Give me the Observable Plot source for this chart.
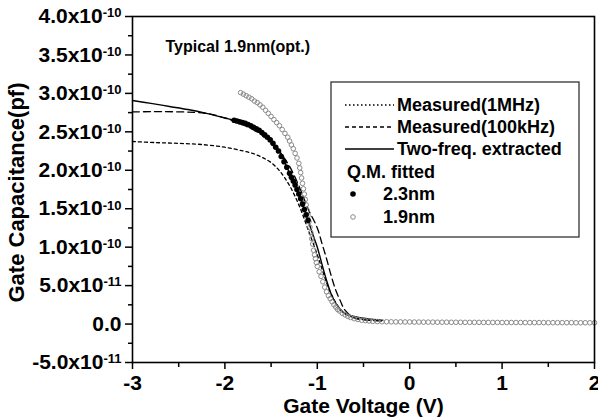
<!DOCTYPE html>
<html><head><meta charset="utf-8">
<script src="https://cdn.jsdelivr.net/npm/d3@7"></script>
<script src="https://cdn.jsdelivr.net/npm/@observablehq/plot@0.6"></script>
<style>
body{margin:0;background:#fff}
svg{font-family:"Liberation Sans",Arial,sans-serif;font-weight:bold}
</style>
</head><body><div id="chart"></div>
<script>
// values in units of 1e-10 pF
const SCALE = 1e-10;
const titleText = "Typical 1.9nm(opt.)";
const xLabel = "Gate Voltage (V)";
const yLabel = "Gate Capacitance(pf)";
const legendLabels = ["Measured(1MHz)", "Measured(100kHz)", "Two-freq. extracted", "Q.M. fitted", "2.3nm", "1.9nm"];

const xTicks = [-3, -2, -1, 0, 1, 2];
const xTickLabels = ["-3", "-2", "-1", "0", "1", "2"];
const xMinorTicks = [-2.5, -1.5, -0.5, 0.5, 1.5];
const yTicks = [-5e-11, 0, 5e-11, 1e-10, 1.5e-10, 2e-10, 2.5e-10, 3e-10, 3.5e-10, 4e-10];
const yTickMantissa = ["-5.0x10", "0.0", "5.0x10", "1.0x10", "1.5x10", "2.0x10", "2.5x10", "3.0x10", "3.5x10", "4.0x10"];
const yTickExponent = ["-11", "", "-11", "-10", "-10", "-10", "-10", "-10", "-10", "-10"];
const yMinorTicks = [-2.5e-11, 2.5e-11, 7.5e-11, 1.25e-10, 1.75e-10, 2.25e-10, 2.75e-10, 3.25e-10, 3.75e-10];

// Measured (1MHz)
const v1MHz = [-3, -2.75, -2.5, -2.25, -2.0, -1.8, -1.7, -1.6, -1.5, -1.4, -1.3, -1.2, -1.1, -1.0, -0.95, -0.9, -0.85, -0.8, -0.75, -0.7, -0.6, -0.5, -0.4, -0.3];
const c1MHz = [2.374, 2.36, 2.35, 2.335, 2.30, 2.25, 2.22, 2.17, 2.10, 1.98, 1.80, 1.55, 1.23, 0.90, 0.72, 0.54, 0.39, 0.28, 0.19, 0.135, 0.08, 0.06, 0.05, 0.045];

// Measured (100kHz)
const v100k = [-3, -2.5, -2.2, -2.0, -1.8, -1.6, -1.5, -1.4, -1.3, -1.2, -1.1, -1.0, -0.95, -0.9, -0.85, -0.8, -0.75, -0.7, -0.6, -0.5, -0.4, -0.3];
const c100k = [2.76, 2.76, 2.74, 2.68, 2.59, 2.46, 2.37, 2.23, 2.05, 1.80, 1.50, 1.25, 1.05, 0.85, 0.63, 0.44, 0.30, 0.18, 0.08, 0.055, 0.045, 0.04];

// Two-freq. extracted
const vTwo = [-3, -2.8, -2.6, -2.4, -2.2, -2.0, -1.9, -1.8, -1.7, -1.6, -1.5, -1.4, -1.3, -1.2, -1.1, -1.05, -1.0, -0.95, -0.9, -0.85, -0.8, -0.75, -0.7, -0.6, -0.5, -0.4, -0.3];
const cTwo = [2.907, 2.87, 2.83, 2.79, 2.74, 2.68, 2.65, 2.615, 2.57, 2.49, 2.38, 2.23, 1.96, 1.69, 1.35, 1.17, 1.00, 0.78, 0.57, 0.39, 0.27, 0.19, 0.14, 0.10, 0.075, 0.06, 0.05];

// Q.M. fitted 2.3nm (filled dots)
const v23 = [-1.90, -1.87, -1.84, -1.81, -1.78, -1.75, -1.72, -1.69, -1.66, -1.63, -1.60, -1.57, -1.54, -1.51, -1.48, -1.45, -1.42, -1.39, -1.36, -1.33, -1.30, -1.28, -1.26, -1.24, -1.22, -1.20, -1.18, -1.16, -1.14, -1.12, -1.10];
const c23 = [2.65, 2.64, 2.63, 2.62, 2.61, 2.595, 2.58, 2.56, 2.54, 2.52, 2.49, 2.46, 2.43, 2.395, 2.35, 2.30, 2.25, 2.18, 2.11, 2.04, 1.96, 1.91, 1.86, 1.81, 1.75, 1.69, 1.63, 1.56, 1.49, 1.42, 1.35];

// Q.M. fitted 1.9nm (open circles)
const v19 = [-1.83, -1.80, -1.77, -1.74, -1.71, -1.68, -1.65, -1.62, -1.59, -1.56, -1.53, -1.50, -1.47, -1.44, -1.41, -1.38, -1.35, -1.32, -1.30, -1.28, -1.26, -1.24, -1.22, -1.20, -1.19, -1.18, -1.17, -1.16, -1.15, -1.14, -1.13, -1.12, -1.11, -1.10, -1.09, -1.08, -1.07, -1.06, -1.05, -1.04, -1.03, -1.02, -1.01, -1.00, -0.98, -0.96, -0.94, -0.92, -0.90, -0.88, -0.86, -0.84, -0.82, -0.80, -0.78, -0.76, -0.73, -0.70, -0.67, -0.64, -0.60, -0.56, -0.52, -0.48, -0.44, -0.40,
  -0.35, -0.30, -0.25, -0.20, -0.15, -0.10, -0.05, 0.00, 0.05, 0.10, 0.15, 0.20, 0.25, 0.30, 0.35, 0.40, 0.45, 0.50, 0.55, 0.60, 0.65, 0.70, 0.75, 0.80, 0.85, 0.90, 0.95, 1.00, 1.05, 1.10, 1.15, 1.20, 1.25, 1.30, 1.35, 1.40, 1.45, 1.50, 1.55, 1.60, 1.65, 1.70, 1.75, 1.80, 1.85, 1.90, 1.95, 2.00];
const c19 = [3.01, 2.99, 2.97, 2.95, 2.93, 2.90, 2.88, 2.85, 2.82, 2.78, 2.74, 2.70, 2.66, 2.62, 2.58, 2.53, 2.48, 2.43, 2.38, 2.33, 2.28, 2.22, 2.16, 2.09, 2.03, 1.97, 1.90, 1.83, 1.76, 1.69, 1.62, 1.55, 1.48, 1.41, 1.33, 1.26, 1.19, 1.11, 1.04, 0.96, 0.90, 0.85, 0.80, 0.75, 0.68, 0.62, 0.55, 0.48, 0.42, 0.37, 0.33, 0.29, 0.25, 0.22, 0.19, 0.17, 0.14, 0.12, 0.10, 0.085, 0.07, 0.06, 0.05, 0.045, 0.04, 0.035,
  0.032, 0.030, 0.030, 0.029, 0.028, 0.028, 0.027, 0.027, 0.026, 0.026, 0.025, 0.025, 0.025, 0.024, 0.024, 0.024, 0.023, 0.023, 0.023, 0.022, 0.022, 0.022, 0.022, 0.021, 0.021, 0.021, 0.021, 0.020, 0.020, 0.020, 0.020, 0.020, 0.019, 0.019, 0.019, 0.019, 0.019, 0.018, 0.018, 0.018, 0.018, 0.018, 0.018, 0.017, 0.017, 0.017, 0.017, 0.017];

const rows = (vs, cs) => vs.map((v, i) => ({v, c: cs[i] * SCALE}));
const d1MHz = rows(v1MHz, c1MHz);
const d100k = rows(v100k, c100k);
const dTwo = rows(vTwo, cTwo);
const d23 = rows(v23, c23);
const d19 = rows(v19, c19);

const W = 598, H = 418, ML = 132, MR = 4, MT = 16, MB = 56;
const FW = W - ML - MR, FH = H - MT - MB;

const plot = Plot.plot({
  width: W,
  height: H,
  marginLeft: ML,
  marginRight: MR,
  marginTop: MT,
  marginBottom: MB,
  style: {fontFamily: '"Liberation Sans", Arial, sans-serif', fontWeight: "bold", fontSize: "18px", color: "#000", background: "#fff", overflow: "visible"},
  x: {domain: [-3, 2], axis: null},
  y: {domain: [-5e-11, 4e-10], axis: null},
  marks: [
    // ticks (outward)
    Plot.tickX(xMinorTicks, {x: d => d, insetTop: FH, insetBottom: -5, stroke: "#000", strokeWidth: 1.5}),
    Plot.tickX(xTicks, {x: d => d, insetTop: FH, insetBottom: -7, stroke: "#000", strokeWidth: 1.5}),
    Plot.tickY(yMinorTicks, {y: d => d, insetLeft: -4, insetRight: FW, stroke: "#000", strokeWidth: 1.5}),
    Plot.tickY(yTicks, {y: d => d, insetLeft: -7, insetRight: FW, stroke: "#000", strokeWidth: 1.5}),
    // tick labels
    Plot.text(xTicks, {x: d => d, frameAnchor: "bottom", dy: 21, text: (d, i) => xTickLabels[i], textAnchor: "middle", lineAnchor: "middle", fontSize: 21, fontWeight: "bold"}),
    Plot.text(yTicks, {y: d => d, frameAnchor: "left", dx: -11, text: (d, i) => yTickMantissa[i] + "|" + yTickExponent[i], textAnchor: "end", lineAnchor: "middle", fontSize: 21, fontWeight: "bold"}),
    // data
    Plot.line(d1MHz, {x: "v", y: "c", curve: "catmull-rom", stroke: "#000", strokeWidth: 1.3, strokeDasharray: "3,3"}),
    Plot.line(d100k, {x: "v", y: "c", curve: "catmull-rom", stroke: "#000", strokeWidth: 1.3, strokeDasharray: "7,4"}),
    Plot.line(dTwo, {x: "v", y: "c", curve: "catmull-rom", stroke: "#000", strokeWidth: 1.4}),
    Plot.dot(d19, {x: "v", y: "c", r: 2.3, stroke: "#8a8a8a", strokeWidth: 1, fill: "none"}),
    Plot.dot(d23, {x: "v", y: "c", r: 2.8, fill: "#000", stroke: "none"}),
    Plot.frame({stroke: "#000", strokeWidth: 1.6}),
    Plot.text([titleText], {frameAnchor: "top-left", dx: 33, dy: 30, textAnchor: "start", lineAnchor: "middle", fontSize: 16, fontWeight: "bold"}),
    Plot.text([xLabel], {frameAnchor: "bottom", dy: 44, textAnchor: "middle", lineAnchor: "middle", fontSize: 21, fontWeight: "bold"}),
    Plot.text([yLabel], {frameAnchor: "left", dx: -116, dy: 3, rotate: -90, textAnchor: "middle", lineAnchor: "middle", fontSize: 22, fontWeight: "bold"})
  ]
});
document.getElementById("chart").appendChild(plot);

const svg = d3.select(plot);
// superscript tick labels
svg.selectAll("text").each(function () {
  const t = d3.select(this);
  const s = t.text();
  if (s.indexOf("|") < 0) return;
  const parts = s.split("|");
  t.selectAll("*").remove();
  t.text(null);
  t.append("tspan").text(parts[0]);
  if (parts[1]) t.append("tspan").attr("dy", "-0.45em").attr("font-size", 13).text(parts[1]);
});

// legend (inside the plot frame)
const lg = svg.append("g").attr("font-size", 18).attr("font-weight", "bold").attr("text-anchor", "start");
lg.append("rect").attr("x", 331).attr("y", 82).attr("width", 248).attr("height", 155)
  .attr("fill", "#fff").attr("stroke", "#333").attr("stroke-width", 1.3);
const rowsY = [105, 127, 149, 172, 194, 217];
const dashes = ["1.5,2.5", "4,3", null];
dashes.forEach((d, i) => {
  const l = lg.append("line").attr("x1", 345).attr("x2", 394).attr("y1", rowsY[i]).attr("y2", rowsY[i])
    .attr("stroke", "#000").attr("stroke-width", 1.3);
  if (d) l.attr("stroke-dasharray", d);
  lg.append("text").attr("x", 397).attr("y", rowsY[i]).attr("dy", "0.35em").text(legendLabels[i]);
});
lg.append("text").attr("x", 347).attr("y", rowsY[3]).attr("dy", "0.35em").text(legendLabels[3]);
lg.append("circle").attr("cx", 353).attr("cy", rowsY[4]).attr("r", 2.8).attr("fill", "#000");
lg.append("text").attr("x", 383).attr("y", rowsY[4]).attr("dy", "0.35em").text(legendLabels[4]);
lg.append("circle").attr("cx", 353).attr("cy", rowsY[5]).attr("r", 2.3).attr("fill", "none").attr("stroke", "#8a8a8a");
lg.append("text").attr("x", 383).attr("y", rowsY[5]).attr("dy", "0.35em").text(legendLabels[5]);
</script>
</body></html>
